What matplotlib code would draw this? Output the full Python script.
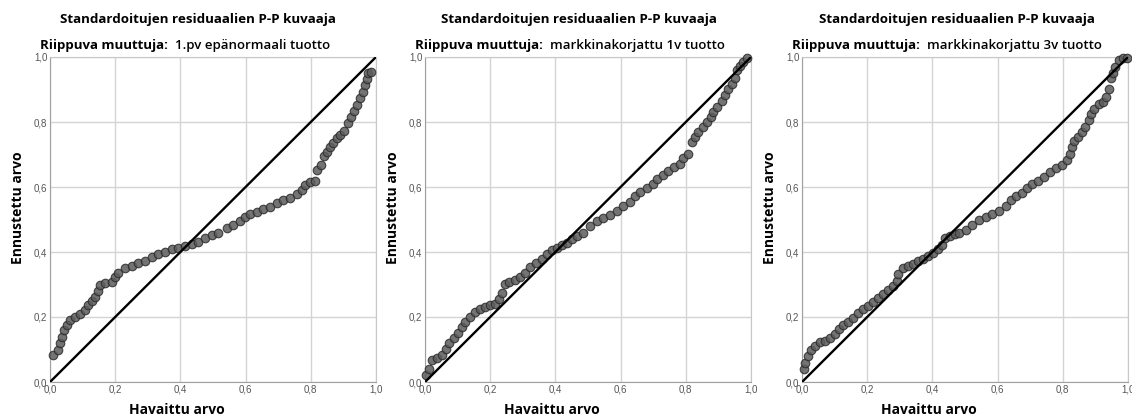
import matplotlib.pyplot as plt

# havaittu (x) ja ennustettu (y) kumulatiivinen todennäköisyys, luettu kuvasta
obs_1 = [0.010, 0.026, 0.031, 0.038, 0.044, 0.051, 0.061, 0.077, 0.092, 0.107, 0.118,
         0.128, 0.138, 0.146, 0.153, 0.169, 0.189, 0.199, 0.210, 0.230, 0.251, 0.271,
         0.291, 0.312, 0.332, 0.353, 0.373, 0.394, 0.414, 0.435, 0.455, 0.475, 0.496,
         0.516, 0.542, 0.562, 0.583, 0.598, 0.613, 0.634, 0.654, 0.675, 0.695, 0.716,
         0.736, 0.757, 0.772, 0.782, 0.798, 0.813, 0.820, 0.830, 0.840, 0.849, 0.859,
         0.869, 0.879, 0.890, 0.902, 0.915, 0.922, 0.933, 0.941, 0.951, 0.959, 0.966,
         0.971, 0.976, 0.984]
exp_1 = [0.083, 0.098, 0.119, 0.139, 0.160, 0.175, 0.191, 0.199, 0.209, 0.222, 0.237,
         0.250, 0.262, 0.281, 0.298, 0.304, 0.307, 0.324, 0.336, 0.350, 0.357, 0.365,
         0.373, 0.384, 0.394, 0.401, 0.408, 0.413, 0.418, 0.425, 0.432, 0.442, 0.452,
         0.459, 0.473, 0.483, 0.496, 0.509, 0.517, 0.524, 0.531, 0.539, 0.550, 0.560,
         0.567, 0.578, 0.591, 0.606, 0.616, 0.619, 0.652, 0.668, 0.695, 0.709, 0.722,
         0.734, 0.750, 0.760, 0.773, 0.796, 0.816, 0.835, 0.852, 0.873, 0.893, 0.914,
         0.931, 0.950, 0.955]

obs_2 = [0.004, 0.011, 0.021, 0.037, 0.052, 0.064, 0.075, 0.088, 0.101, 0.113, 0.124,
         0.139, 0.154, 0.170, 0.185, 0.200, 0.216, 0.228, 0.236, 0.244, 0.259, 0.277,
         0.292, 0.308, 0.323, 0.341, 0.359, 0.374, 0.390, 0.405, 0.420, 0.436, 0.451,
         0.466, 0.486, 0.506, 0.527, 0.547, 0.567, 0.588, 0.608, 0.629, 0.644, 0.660,
         0.680, 0.698, 0.711, 0.729, 0.746, 0.764, 0.782, 0.792, 0.808, 0.818, 0.828,
         0.838, 0.852, 0.864, 0.876, 0.884, 0.897, 0.910, 0.920, 0.930, 0.941, 0.951,
         0.956, 0.966, 0.976, 0.987]
exp_2 = [0.022, 0.040, 0.067, 0.074, 0.084, 0.101, 0.119, 0.135, 0.152, 0.168, 0.186,
         0.200, 0.214, 0.224, 0.231, 0.237, 0.241, 0.255, 0.275, 0.301, 0.307, 0.315,
         0.323, 0.336, 0.354, 0.367, 0.377, 0.393, 0.405, 0.413, 0.421, 0.428, 0.439,
         0.449, 0.458, 0.479, 0.494, 0.504, 0.514, 0.527, 0.540, 0.555, 0.571, 0.584,
         0.596, 0.608, 0.624, 0.637, 0.649, 0.660, 0.670, 0.690, 0.703, 0.739, 0.755,
         0.770, 0.785, 0.801, 0.816, 0.831, 0.847, 0.864, 0.883, 0.903, 0.918, 0.936,
         0.959, 0.972, 0.985, 0.997]

obs_3 = [0.006, 0.010, 0.018, 0.027, 0.039, 0.054, 0.070, 0.085, 0.101, 0.113, 0.126,
         0.142, 0.157, 0.172, 0.188, 0.203, 0.218, 0.234, 0.249, 0.265, 0.280, 0.290,
         0.295, 0.311, 0.326, 0.342, 0.357, 0.372, 0.388, 0.403, 0.418, 0.429, 0.439,
         0.454, 0.470, 0.481, 0.502, 0.522, 0.542, 0.563, 0.584, 0.604, 0.625, 0.640,
         0.655, 0.676, 0.691, 0.707, 0.725, 0.743, 0.760, 0.778, 0.797, 0.814, 0.822,
         0.828, 0.835, 0.848, 0.858, 0.869, 0.879, 0.886, 0.896, 0.910, 0.922, 0.932,
         0.941, 0.948, 0.953, 0.961, 0.971, 0.984, 0.996]
exp_3 = [0.040, 0.060, 0.081, 0.098, 0.111, 0.122, 0.127, 0.135, 0.147, 0.163, 0.176,
         0.186, 0.198, 0.211, 0.224, 0.234, 0.247, 0.260, 0.272, 0.282, 0.295, 0.311,
         0.333, 0.350, 0.357, 0.364, 0.372, 0.380, 0.388, 0.398, 0.408, 0.423, 0.442,
         0.449, 0.456, 0.458, 0.468, 0.484, 0.499, 0.509, 0.516, 0.527, 0.543, 0.560,
         0.571, 0.581, 0.596, 0.608, 0.617, 0.632, 0.645, 0.657, 0.668, 0.683, 0.703,
         0.724, 0.741, 0.755, 0.770, 0.785, 0.806, 0.826, 0.841, 0.854, 0.862, 0.877,
         0.901, 0.936, 0.952, 0.969, 0.990, 0.997, 0.997]

dep_vars = ['1.pv epänormaali tuotto', 'markkinakorjattu 1v tuotto',
            'markkinakorjattu 3v tuotto']
ticks = [0.0, 0.2, 0.4, 0.6, 0.8, 1.0]
tick_labels = ['0,0', '0,2', '0,4', '0,6', '0,8', '1,0']

data = [(obs_1, exp_1), (obs_2, exp_2), (obs_3, exp_3)]
lefts = [50, 425, 802]
title_centres = [198, 579, 957]

fig = plt.figure(figsize=(11.32, 4.19), dpi=100)
W, H = 1132, 419
font = 'Open Sans'

for i, (xs, ys) in enumerate(data):
    left = lefts[i]
    ax = fig.add_axes([left / W, 37 / H, 326 / W, 325 / H])
    ax.set_xlim(0, 1)
    ax.set_ylim(0, 1)
    ax.grid(True, color='#d4d4d4', linewidth=1)
    ax.set_axisbelow(True)
    for s in ax.spines.values():
        s.set_color('#c8c8c8')
    ax.spines['left'].set_color('#a0a0a0')
    ax.spines['bottom'].set_color('#a0a0a0')

    ax.scatter(xs, ys, s=38, facecolor='#5c5c5c', edgecolor='#2a2a2a',
               linewidth=0.8, alpha=0.85, zorder=3, clip_on=False)
    ax.plot([0, 1], [0, 1], color='black', linewidth=1.7, zorder=4)

    ax.set_xticks(ticks)
    ax.set_yticks(ticks)
    ax.set_xticklabels(tick_labels)
    ax.set_yticklabels(tick_labels)
    ax.tick_params(length=0, pad=2, labelsize=7, labelcolor='#555555')
    for lab in ax.get_xticklabels() + ax.get_yticklabels():
        lab.set_fontfamily('Liberation Sans')

    # otsikot
    fig.text(title_centres[i] / W, 1 - 20 / H,
             'Standardoitujen residuaalien P-P kuvaaja',
             ha='center', va='center', fontsize=9.6, fontweight='bold',
             family=font)
    t = fig.text((left - 10) / W, 1 - 45 / H, 'Riippuva muuttuja:',
                 ha='left', va='center', fontsize=9.5, fontweight='bold',
                 family=font)
    ax.annotate(dep_vars[i], xy=(1, 0.5), xycoords=t, xytext=(5, 0),
                textcoords='offset points', ha='left', va='center',
                fontsize=9.5, fontweight='semibold', family=font)

    fig.text((left + 127) / W, 1 - 410 / H, 'Havaittu arvo', ha='center',
             va='center', fontsize=10, fontweight='bold', family=font)
    fig.text((left - 32) / W, 1 - 208 / H, 'Ennustettu arvo', ha='center',
             va='center', rotation=90, fontsize=10, fontweight='bold',
             family=font)

plt.savefig('out.png', dpi=100)
